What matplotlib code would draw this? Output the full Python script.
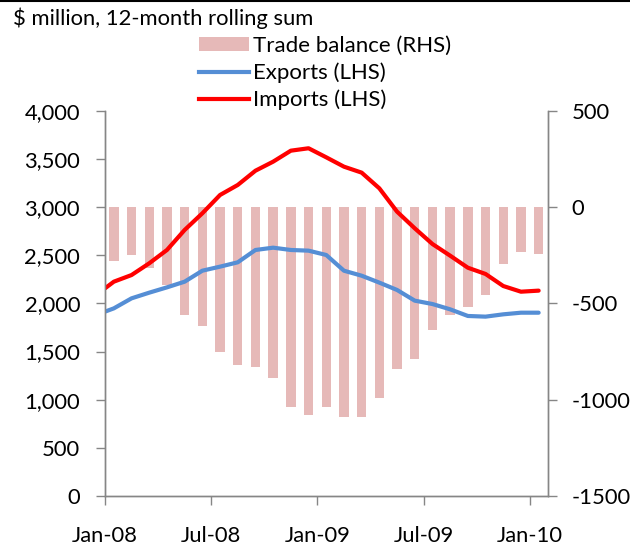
import matplotlib
matplotlib.use("Agg")
import matplotlib.pyplot as plt
from matplotlib.patches import Patch
from matplotlib.lines import Line2D
from matplotlib.textpath import TextPath
from matplotlib.font_manager import FontProperties
import numpy as np

plt.rcParams['font.family'] = ['Lato', 'DejaVu Sans']

# Monthly categories Jan-08 .. Jan-10
months = ["Jan-08", "Feb-08", "Mar-08", "Apr-08", "May-08", "Jun-08", "Jul-08", "Aug-08",
          "Sep-08", "Oct-08", "Nov-08", "Dec-08", "Jan-09", "Feb-09", "Mar-09", "Apr-09",
          "May-09", "Jun-09", "Jul-09", "Aug-09", "Sep-09", "Oct-09", "Nov-09", "Dec-09",
          "Jan-10"]

# Trade balance (RHS), $ million
trade_balance = [-282, -249, -318, -405, -561, -616, -753, -820, -829, -890, -1037, -1080,
                 -1037, -1089, -1089, -993, -839, -789, -640, -561, -518, -455, -298, -232, -244]

# Lines: first value at the start of the axis, then one per month (mid-month)
exports = [1914, 1948, 2052, 2111, 2166, 2225, 2339, 2381, 2426, 2554, 2578, 2554, 2547,
           2502, 2339, 2287, 2215, 2139, 2028, 1993, 1938, 1869, 1862, 1886, 1903, 1903]
imports = [2156, 2225, 2294, 2416, 2554, 2762, 2935, 3125, 3229, 3377, 3471, 3585, 3610,
           3516, 3419, 3357, 3194, 2952, 2779, 2616, 2495, 2370, 2305, 2180, 2121, 2132]

x_tick_labels = ["Jan-08", "Jul-08", "Jan-09", "Jul-09", "Jan-10"]
left_ticks = [0, 500, 1000, 1500, 2000, 2500, 3000, 3500, 4000]
left_tick_labels = ["0", "500", "1,000", "1,500", "2,000", "2,500", "3,000", "3,500", "4,000"]
right_ticks = [-1500, -1000, -500, 0, 500]
right_tick_labels = ["-1500", "-1000", "-500", "0", "500"]
title = "$ million, 12-month rolling sum"
legend_labels = ["Trade balance (RHS)", "Exports (LHS)", "Imports (LHS)"]

BAR = "#E6B9B8"
BLUE = "#558ED5"
RED = "#FF0000"
GRID = "#868686"
DPI = 100


def fit_size(text, target_px):
    """font size (pt) so that the text advance is target_px wide"""
    tp = TextPath((0, 0), text, size=10, prop=FontProperties(family='Lato'))
    w = tp.get_extents().width  # in points at size 10
    w_px = w * DPI / 72.0
    return 10 * target_px / w_px


fs_title = fit_size(title, 298)
fs_tick = fit_size("4,000", 55)
fs_leg = fit_size(legend_labels[0], 196)

fig = plt.figure(figsize=(6.3, 5.46), dpi=DPI)
ax = fig.add_axes([105/630, 1-496/546, (547.5-105)/630, (496-110.7)/546])
ax2 = ax.twinx()

n = len(months)
bar_x = np.arange(n) + 0.5
line_x = np.concatenate([[0.0], bar_x])

ax2.bar(bar_x, trade_balance, width=0.53, color=BAR, zorder=1)
ax2.set_ylim(-1500, 500)
ax2.set_yticks(right_ticks)
ax2.set_yticklabels(right_tick_labels)

ax.set_zorder(ax2.get_zorder() + 1)
ax.patch.set_visible(False)
ax.plot(line_x, exports, color=BLUE, lw=3.0, solid_capstyle='round', solid_joinstyle='round')
ax.plot(line_x, imports, color=RED, lw=3.0, solid_capstyle='round', solid_joinstyle='round')
ax.set_ylim(0, 4000)
ax.set_yticks(left_ticks)
ax.set_yticklabels(left_tick_labels)
ax.set_xlim(0, 25)
ax.set_xticks([0, 6, 12, 18, 24])
ax.set_xticklabels(x_tick_labels)

for a in (ax, ax2):
    a.spines['top'].set_visible(False)
    for s in ('left', 'right', 'bottom'):
        a.spines[s].set_color(GRID)
        a.spines[s].set_linewidth(1.0)
    a.tick_params(colors=GRID, labelcolor='black', labelsize=fs_tick, length=6.5, width=1.0, direction='out')
ax.tick_params(axis='y', pad=11.5)
ax2.tick_params(axis='y', pad=11)
ax.tick_params(axis='x', pad=15)

fig.text(13/630, 1-25/546, title, fontsize=fs_title, ha='left', va='baseline')

handles = [Patch(facecolor=BAR, edgecolor='none'),
           Line2D([], [], color=BLUE, lw=3.0),
           Line2D([], [], color=RED, lw=3.0)]
hl = (50 * 72 / DPI) / fs_leg
fig.legend(handles, legend_labels, loc='upper left', bbox_to_anchor=(199/630, 1-36/546),
           frameon=False, fontsize=fs_leg, handlelength=hl, handleheight=(14 * 72 / DPI) / fs_leg,
           handletextpad=(4 * 72 / DPI) / fs_leg, labelspacing=(6.5 * 72 / DPI) / fs_leg,
           borderpad=0, borderaxespad=0)

fig.add_artist(Line2D([0, 1], [1-0.5/546, 1-0.5/546], color='black', lw=1.5, transform=fig.transFigure))

fig.savefig("out.png", dpi=DPI)
